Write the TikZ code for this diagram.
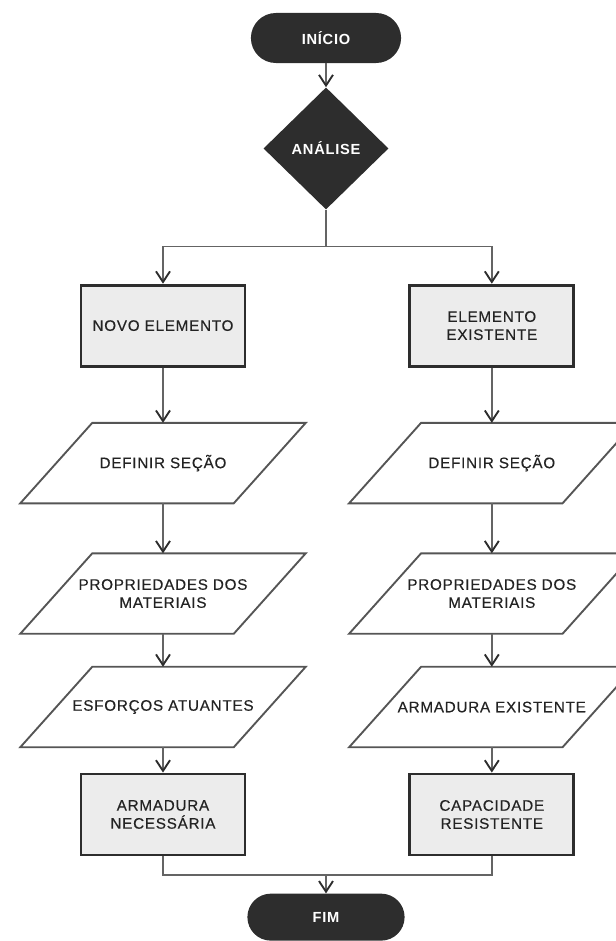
\documentclass[tikz,border=0pt]{standalone}
\usepackage{fontspec}
\setmainfont{Liberation Sans}
\newfontfamily\flfont[LetterSpace=5,FakeBold=0.4]{Liberation Sans}
\newfontfamily\fltermfont[LetterSpace=5]{Liberation Sans}
\usetikzlibrary{arrows.meta,positioning,shapes.geometric,shapes.misc}
\definecolor{fldark}{RGB}{45,45,45}
\definecolor{flgray}{RGB}{236,236,236}
\definecolor{flline}{RGB}{100,100,100}
\definecolor{fledge}{RGB}{85,85,85}
\definecolor{fltext}{RGB}{35,35,35}
\tikzset{
  flterm/.style={rounded rectangle, fill=fldark, text=white, font=\fltermfont\bfseries\fontsize{12.5}{14}\selectfont, minimum width=47.4mm, minimum height=15mm},
  fldecisao/.style={diamond, fill=fldark, text=white, font=\fltermfont\bfseries\fontsize{12.5}{14}\selectfont, minimum width=37.5mm, minimum height=36.6mm, inner sep=0pt},
  flbox/.style={rectangle, draw=fldark, line width=2.4pt, fill=flgray, text=fltext, align=center, font=\flfont\fontsize{13}{15.4}\selectfont, minimum width=49.2mm, minimum height=24.3mm},
  flpara/.style={rectangle, text=fltext, align=center, font=\flfont\fontsize{13}{15.4}\selectfont, minimum width=63.9mm, minimum height=24mm, inner sep=0pt},
  flparaline/.style={draw=fledge, line width=1.6pt, line join=miter},
  flarr/.style={-{Straight Barb[length=3.2mm, width=4.2mm, line width=1.6pt, color=fldark]}, line width=1.3pt, draw=flline},
  flline/.style={line width=1.3pt, draw=flline}
}
\begin{document}
\begin{tikzpicture}
  \useasboundingbox (-97.8mm,-270.9mm) rectangle (87mm,11.4mm);
  \node[flterm] (inicio) at (0,0) {INÍCIO};
  \node[fldecisao, below=7.2mm of inicio] (analise) {ANÁLISE};
  \coordinate[below=11.1mm of analise] (split);
  % ramo esquerdo
  \node[flbox, below=11.1mm of split, xshift=-48.9mm] (novo) {NOVO ELEMENTO};
  \node[flpara, below=16.6mm of novo] (def1) {DEFINIR SEÇÃO};
  \node[flpara, below=15mm of def1] (prop1) {PROPRIEDADES DOS\\MATERIAIS};
  \node[flpara, below=9.9mm of prop1] (esf) {ESFORÇOS ATUANTES};
  \node[flbox, below=7.6mm of esf] (armn) {ARMADURA\\NECESSÁRIA};
  % ramo direito
  \node[flbox, right=48.6mm of novo] (exist) {ELEMENTO\\EXISTENTE};
  \node[flpara, below=16.6mm of exist] (def2) {DEFINIR SEÇÃO};
  \node[flpara, below=15mm of def2] (prop2) {PROPRIEDADES DOS\\MATERIAIS};
  \node[flpara, below=9.9mm of prop2] (arme) {ARMADURA EXISTENTE};
  \node[flbox, below=7.6mm of arme] (cap) {CAPACIDADE\\RESISTENTE};
  \coordinate (juncao) at ([yshift=-5.5mm]split |- armn.south);
  \node[flterm, below=5.6mm of juncao, minimum width=49.5mm, minimum height=14.1mm] (fim) {FIM};
  % paralelogramos
  \foreach \n in {def1,prop1,esf,def2,prop2,arme}
    \draw[flparaline] ([xshift=10.8mm]\n.north west) -- ([xshift=10.8mm]\n.north east)
      -- ([xshift=-10.8mm]\n.south east) -- ([xshift=-10.8mm]\n.south west) -- cycle;
  \draw[flarr] (inicio) -- (analise);
  \draw[flline] (analise.south) -- (split);
  \draw[flarr] (split) -| (novo.north);
  \draw[flarr] (split) -| (exist.north);
  \draw[flarr] (novo) -- (def1);
  \draw[flarr] (def1) -- (prop1);
  \draw[flarr] (prop1) -- (esf);
  \draw[flarr] (esf) -- (armn);
  \draw[flarr] (exist) -- (def2);
  \draw[flarr] (def2) -- (prop2);
  \draw[flarr] (prop2) -- (arme);
  \draw[flarr] (arme) -- (cap);
  \draw[flline] (armn.south) |- (juncao) -| (cap.south);
  \draw[flarr] (juncao) -- (fim);
\end{tikzpicture}
\end{document}
